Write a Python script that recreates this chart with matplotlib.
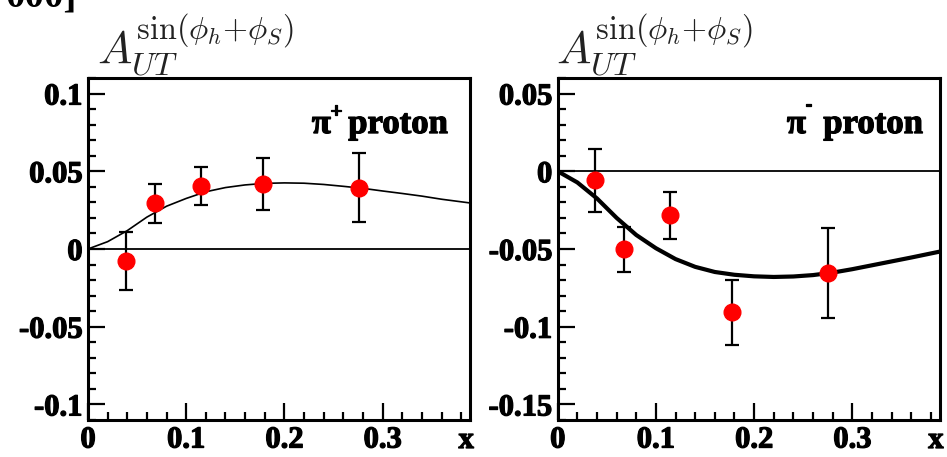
import numpy as np
import matplotlib
matplotlib.use('Agg')
import matplotlib.pyplot as plt
import matplotlib.patheffects as pe
from matplotlib.ticker import MultipleLocator

plt.rcParams['mathtext.fontset'] = 'cm'

# pi+ proton data
x_pip = [0.039, 0.068, 0.115, 0.178, 0.276]
y_pip = [-0.0077, 0.0293, 0.0405, 0.0415, 0.0395]
e_pip = [0.0185, 0.0128, 0.0125, 0.0167, 0.022]

# pi- proton data
x_pim = [0.038, 0.0675, 0.1143, 0.178, 0.275]
y_pim = [-0.0058, -0.0502, -0.0284, -0.0908, -0.0652]
e_pim = [0.0203, 0.0146, 0.015, 0.021, 0.029]

# model curves
x_curve = [0, 0.02, 0.04, 0.06, 0.08, 0.10, 0.12, 0.14, 0.16, 0.18,
           0.20, 0.22, 0.24, 0.26, 0.28, 0.30, 0.32, 0.34, 0.36, 0.389]
y_curve_pip = [0, 0.0047, 0.0118, 0.0205, 0.0275, 0.0325, 0.0368, 0.0395, 0.0412, 0.0422,
               0.0425, 0.0423, 0.0415, 0.0403, 0.0390, 0.0373, 0.0357, 0.0340, 0.0320, 0.0296]
y_curve_pim = [0, -0.0072, -0.0175, -0.0300, -0.0410, -0.0495, -0.0565, -0.0615, -0.0648, -0.0666,
               -0.0676, -0.0680, -0.0677, -0.0668, -0.0652, -0.0630, -0.0605, -0.0580, -0.0555, -0.0517]

yticks_pip = [-0.1, -0.05, 0, 0.05, 0.1]
ylabels_pip = ['-0.1', '-0.05', '0', '0.05', '0.1']
yticks_pim = [-0.15, -0.1, -0.05, 0, 0.05]
ylabels_pim = ['-0.15', '-0.1', '-0.05', '0', '0.05']
xticks = [0, 0.1, 0.2, 0.3]
xlabels = ['0', '0.1', '0.2', '0.3']

title = r'$A_{UT}^{\sin(\phi_h{+}\phi_S)}$'
heavy = [pe.withStroke(linewidth=0.9, foreground='black')]
tickfont = dict(family='Liberation Serif', weight='bold', size=22)

fig = plt.figure(figsize=(9.47, 4.57), dpi=100)
ax1 = fig.add_axes([0.0929, 0.081, 0.4034, 0.7484])
ax2 = fig.add_axes([0.5889, 0.081, 0.4034, 0.7484])

# label layout per panel: sign, pi x, sign x, sign y, proton right edge
panels = [
    (ax1, x_pip, y_pip, e_pip, y_curve_pip, 1.2, (-0.11, 0.11), yticks_pip, ylabels_pip,
     '+', 0.586, 0.649, 0.900, 0.942),
    (ax2, x_pim, y_pim, e_pim, y_curve_pim, 3.0, (-0.16, 0.06), yticks_pim, ylabels_pim,
     '-', 0.600, 0.657, 0.922, 0.956),
]

for ax, xs, ys, es, yc, lw, ylim, yt, yl, sign, xpi, xsign, ysign, xpr in panels:
    ax.axhline(0, color='black', lw=1.3, zorder=1)
    ax.plot(x_curve, yc, color='black', lw=lw, zorder=2)
    ax.errorbar(xs, ys, yerr=es, fmt='none', ecolor='black', elinewidth=1.6,
                capsize=5, capthick=1.6, zorder=3)
    ax.plot(xs, ys, 'o', color='red', markersize=12, zorder=4)
    ax.set_xlim(0, 0.389)
    ax.set_ylim(*ylim)
    ax.set_xticks(xticks)
    ax.set_xticklabels(xlabels, fontdict=tickfont)
    ax.set_yticks(yt)
    ax.set_yticklabels(yl, fontdict=tickfont)
    for lab in ax.get_xticklabels() + ax.get_yticklabels():
        lab.set_path_effects(heavy)
    ax.xaxis.set_minor_locator(MultipleLocator(0.02))
    ax.yaxis.set_minor_locator(MultipleLocator(0.01))
    ax.tick_params(which='major', direction='in', length=12.5, width=1.6, pad=4,
                   top=False, right=False)
    ax.tick_params(which='minor', direction='in', length=6, width=1.6,
                   top=False, right=False)
    for s in ax.spines.values():
        s.set_linewidth(2.2)
    ax.text(0.99, -0.06, 'x', transform=ax.transAxes, ha='center', va='center',
            fontdict=tickfont, path_effects=heavy)
    ax.text(xpi, 0.839, 'π', transform=ax.transAxes, ha='left', va='baseline',
            family='Liberation Serif', weight='bold', fontsize=25, path_effects=heavy)
    ax.text(xsign, ysign, sign, transform=ax.transAxes, ha='center', va='center',
            family='Liberation Serif', weight='bold', fontsize=15, path_effects=heavy)
    ax.text(xpr, 0.839, 'proton', transform=ax.transAxes, ha='right', va='baseline',
            family='Liberation Serif', weight='bold', fontsize=25, path_effects=heavy)

fig.text(97 / 947, 1 - 64 / 457, title, fontsize=33, color='#222222', va='baseline')
fig.text(556 / 947, 1 - 64 / 457, title, fontsize=33, color='#222222', va='baseline')
fig.text(5 / 947, 1 - 7 / 457, '000]', fontsize=28, family='Liberation Serif',
         weight='bold', va='baseline')

fig.savefig('out.png', dpi=100)
plt.close()
